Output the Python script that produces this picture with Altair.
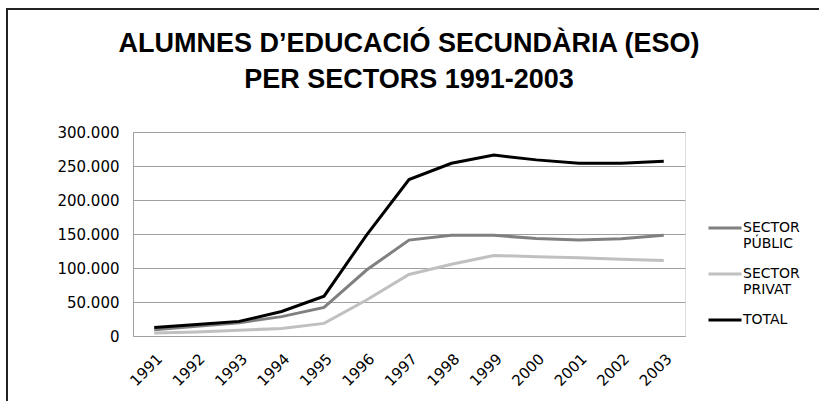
import altair as alt
import pandas as pd

# Secondary-school (ESO) enrolment by sector, 1991-2003
years = ["1991", "1992", "1993", "1994", "1995", "1996", "1997",
         "1998", "1999", "2000", "2001", "2002", "2003"]
sector_public = [9000, 14500, 19500, 28500, 42000, 97000, 141000,
                 148000, 148000, 143500, 141000, 143000, 148000]
sector_private = [4500, 6000, 8500, 11000, 18500, 53000, 90500,
                  105500, 118500, 116500, 115000, 113000, 111000]
total = [12500, 17000, 21500, 36000, 58500, 148500, 230000,
         254000, 266000, 259000, 254000, 254000, 257000]

series_names = ["SECTOR PÚBLIC", "SECTOR PRIVAT", "TOTAL"]
series_colors = ["#808080", "#c0c0c0", "#000000"]
title_lines = ["ALUMNES D\u2019EDUCACIÓ SECUNDÀRIA (ESO)", "PER SECTORS 1991-2003"]

rows = []
for name, values in zip(series_names, [sector_public, sector_private, total]):
    for y, v in zip(years, values):
        rows.append({"year": y, "serie": name, "alumnes": v})
df = pd.DataFrame(rows)

lines = alt.Chart(df).mark_line(strokeWidth=3).encode(
    x=alt.X("year:O", sort=years, scale=alt.Scale(type="point", padding=0.5),
            axis=alt.Axis(title=None, labelAngle=-45, labelFont="DejaVu Sans",
                          labelFontSize=15, labelColor="black", ticks=False,
                          domainColor="#a0a0a0", labelPadding=15)),
    y=alt.Y("alumnes:Q", scale=alt.Scale(domain=[0, 300000], nice=False),
            axis=alt.Axis(title=None, values=[0, 50000, 100000, 150000, 200000, 250000, 300000],
                          labelExpr="replace(format(datum.value, ','), ',', '.')",
                          labelFont="DejaVu Sans", labelFontSize=15, labelColor="black",
                          ticks=False, labelPadding=14, gridColor="#a0a0a0",
                          domainColor="#a0a0a0")),
    color=alt.Color("serie:N", scale=alt.Scale(domain=series_names, range=series_colors),
                    legend=alt.Legend(title=None, orient="none", legendX=574, legendY=78,
                                      symbolType="stroke", symbolSize=1089,
                                      symbolStrokeWidth=3, labelFont="DejaVu Sans",
                                      labelFontSize=14, labelColor="black",
                                      labelExpr="split(datum.label, ' ')",
                                      labelBaseline="middle",
                                      labelOffset=0, rowPadding=5, padding=0)),
    order=alt.Order("serie:N", sort="descending"),
)

# outer frame of the figure
frame = alt.Chart(pd.DataFrame({"k": [0]})).mark_rect(
    filled=False, stroke="#222222", strokeWidth=2
).encode(
    x=alt.value(-126), x2=alt.value(800), y=alt.value(-123), y2=alt.value(400)
)

chart = alt.layer(lines, frame).properties(
    width=552,
    height=204,
    padding={"left": 133, "top": 132, "right": 134, "bottom": 65},
    autosize=alt.AutoSizeParams(type="none"),
    title=alt.Title(title_lines, font="Liberation Sans", fontSize=27, fontWeight="bold",
                    color="black", lineHeight=36, anchor="middle", baseline="bottom",
                    offset=-113),
).configure_view(strokeWidth=0).configure(background="white")

chart.save("out.html", embed_options={"renderer": "svg", "actions": False})
